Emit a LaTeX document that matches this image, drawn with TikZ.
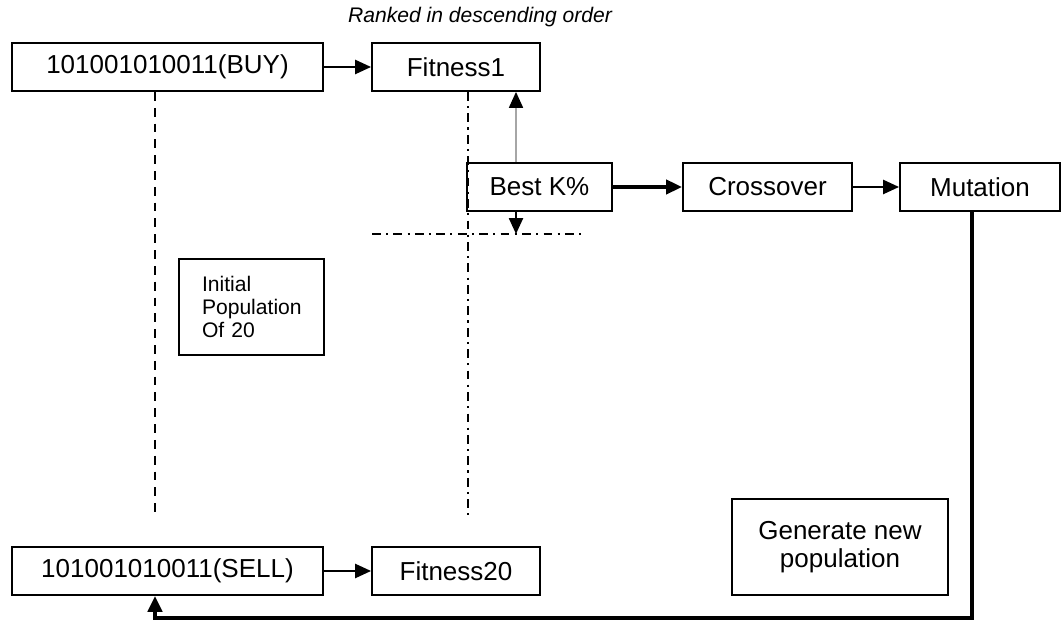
\documentclass[tikz,border=0pt]{standalone}
\usepackage{fontspec}
\setmainfont{Liberation Sans}
\usetikzlibrary{positioning,arrows.meta,calc}
\tikzset{
    block/.style = {
        draw,
        shape=rectangle,
        minimum height=0.96cm,
        inner sep=0pt,
        line width=1.1pt,
        font=\fontsize{14.8}{17}\selectfont
    },
    tallblock/.style = {
        block,
        minimum height=1.92cm,
        align=center,
        font=\fontsize{14.8}{16}\selectfont
    },
    note/.style = {
        draw,
        shape=rectangle,
        minimum height=1.92cm,
        inner xsep=0.46cm,
        inner ysep=0pt,
        text width=1.98cm,
        align=left,
        line width=1.1pt,
        font=\fontsize{12}{13}\selectfont
    },
    caption/.style = {
        font=\itshape\fontsize{12}{14}\selectfont
    },
    guide/.style = {
        line width=1pt
    },
    >={Triangle[length=9pt,width=8pt,color=black]},
}
\begin{document}
\begin{tikzpicture}
                \useasboundingbox (0,0) rectangle (21.24,12.42);

                \node[caption] (rank) at (9.6,12.08) {Ranked in descending order};
                \node[block, minimum width=6.22cm] (buy) at (3.35,11.08) {101001010011(BUY)};
                \node[block, minimum width=3.36cm] (fit1) at (9.12,11.08) {Fitness1};
                \node[block, minimum width=2.9cm] (best) at (10.79,8.68) {Best K\%};
                \node[block, minimum width=3.38cm] (cross) at (15.35,8.68) {Crossover};
                \node[block, minimum width=3.2cm] (mut) at (19.6,8.68) {Mutation};
                \node[note, minimum width=2.9cm] (init) at (5.03,6.28) {Initial\\Population\\Of 20};
                \node[block, minimum width=6.22cm] (sell) at (3.35,1.0) {101001010011(SELL)};
                \node[block, minimum width=3.36cm] (fit20) at (9.12,1.0) {Fitness20};
                \node[tallblock, minimum width=4.32cm] (newpop) at (16.8,1.48) {Generate new\\population};

                \coordinate (buyend) at (3.1,2.08);
                \coordinate (fitend) at (9.36,2.12);
                \coordinate (cutleft) at (7.44,7.74);
                \coordinate (cutright) at (11.7,7.74);
                \coordinate (rank1) at (10.32,7.74);
                \coordinate (turn) at (19.44,0.06);

                % population members and their fitness
                \path[draw, guide, dashed, dash pattern=on 5pt off 4pt] (buy.south -| buyend) -- (buyend);
                \path[draw, guide, dash pattern=on 5pt off 3pt on 1.2pt off 3pt] (fit1.south -| fitend) -- (fitend);
                \path[draw, guide, dash pattern=on 5pt off 3pt on 1.2pt off 3pt] (cutleft) -- (cutright);
                \path[draw, line width=1.1pt, ->] (buy) -- (fit1);
                \path[draw, line width=1.1pt, ->] (sell) -- (fit20);

                % selection
                \path[draw, line width=0.7pt, color=black!35, ->] (best.north -| rank1) -- (fit1.south -| rank1);
                \path[draw, line width=1pt, ->] (best.south -| rank1) -- (rank1);
                \path[draw, line width=2pt, ->] (best) -- (cross);
                \path[draw, line width=1.1pt, ->] (cross) -- (mut);

                % back to the population
                \path[draw, line width=2.2pt, ->] (mut.south -| turn) -- (turn) -| (sell.south -| buyend);
            \end{tikzpicture}
\end{document}
